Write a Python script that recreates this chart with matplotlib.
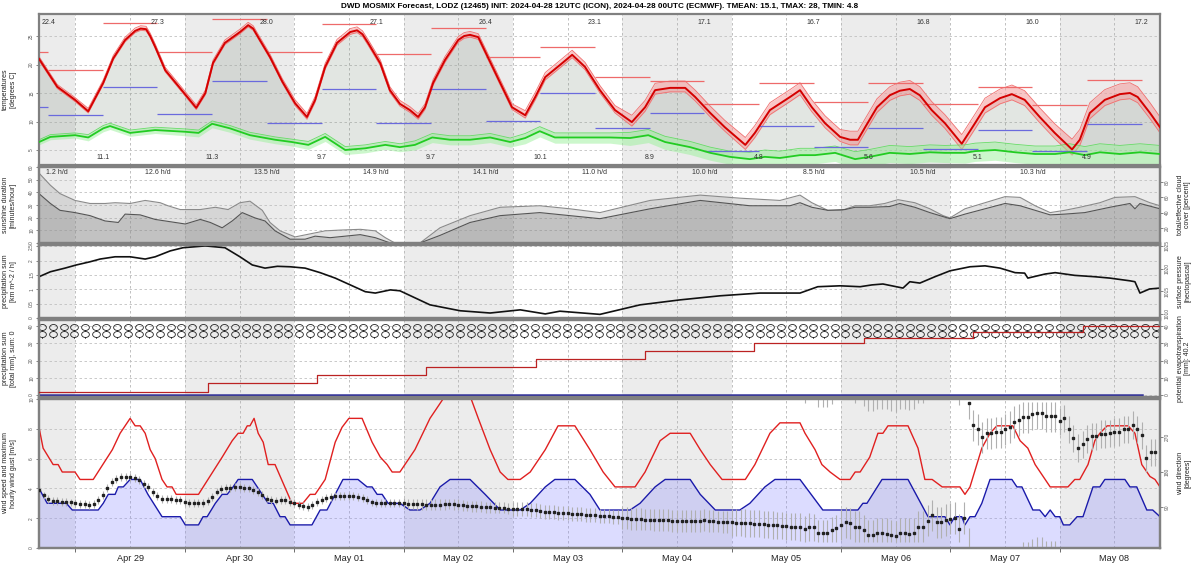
import numpy as np
import matplotlib
matplotlib.use('Agg')
import matplotlib.pyplot as plt
from matplotlib.path import Path

plt.rcParams['font.family'] = ['Liberation Sans', 'DejaVu Sans']

# time axis: hours since 2024-04-28 00:00
T0, T1 = 16, 262
day_labels = ['Apr 29', 'Apr 30', 'May 01', 'May 02', 'May 03', 'May 04',
              'May 05', 'May 06', 'May 07', 'May 08']

# ---- temperature (degrees C) ----
temp_h = [16.0, 20.0, 23.9, 26.8, 30.1, 32.3, 34.9, 37.1, 38.3, 39.5, 40.4, 41.5, 43.7,
          46.7, 50.5, 52.5, 54.2, 56.8, 60.1, 61.9, 63.0, 64.1, 66.7, 69.4, 72.2, 74.8,
          76.6, 78.8, 81.4, 84.3, 85.8, 87.0, 88.2, 90.9, 93.0, 95.2, 97.4, 99.2, 100.7,
          102.5, 105.1, 108.0, 109.3, 110.6, 112.4, 114.5, 117.2, 119.8, 122.7, 124.9,
          127.1, 130.3, 133.0, 135.8, 139.1, 142.4, 146.1, 149.0, 151.2, 154.5, 157.8,
          160.0, 163.3, 166.5, 171.0, 173.1, 176.4, 180.8, 183.0, 185.6, 188.5, 191.8,
          194.0, 195.7, 197.3, 199.9, 202.7, 204.9, 207.1, 209.3, 211.9, 214.8, 218.5,
          221.4, 223.6, 226.9, 229.5, 232.3, 235.6, 238.9, 242.7, 244.4, 246.6, 249.9,
          253.2, 255.4, 257.1, 259.8, 262.0]
temp = [21.0, 16.1, 13.8, 11.8, 16.8, 21.1, 24.3, 25.9, 26.3, 26.2, 25.0, 23.1, 19.0,
        16.1, 12.4, 15.0, 20.3, 23.8, 25.7, 26.9, 26.3, 24.8, 21.3, 17.0, 13.2, 10.8,
        13.8, 19.6, 23.8, 25.7, 26.0, 25.3, 23.8, 20.2, 15.5, 13.1, 12.0, 10.8, 12.5,
        16.8, 20.8, 24.3, 25.0, 25.2, 24.8, 21.3, 16.8, 12.5, 11.1, 14.3,
        17.8, 19.9, 21.7, 19.6, 15.5, 12.0, 9.9, 12.5, 15.5, 15.9, 15.9,
        14.3, 11.5, 9.0, 5.9, 8.0, 12.0, 14.3, 15.5, 12.5, 9.7, 7.3,
        6.8, 6.8, 9.0, 12.5, 14.6, 15.4, 15.7, 14.6, 12.0, 9.7, 6.1,
        9.7, 12.5, 14.1, 14.8, 13.8, 10.8, 8.0, 5.1, 6.8, 11.5, 13.8,
        14.8, 15.0, 14.3, 11.5, 9.0]
# ensemble spread per forecast day (above / below the mean)
temp_up_day = [0.4, 0.5, 0.5, 0.6, 0.6, 0.8, 1.2, 1.3, 1.5, 1.6, 1.8]
temp_lo_day = [0.3, 0.3, 0.3, 0.4, 0.4, 0.5, 0.7, 0.8, 0.9, 1.0, 1.0]

dew_h = [16.0, 18.5, 23.9, 26.8, 30.1, 31.6, 36.0, 41.5, 48.1, 51.0, 54.0, 57.9,
         62.3, 67.8, 71.5, 75.1, 78.8, 83.2, 87.6, 92.0, 95.2, 98.5, 102.3, 106.2,
         110.6, 115.0, 119.4, 122.7, 125.9, 129.2, 134.7, 141.3, 145.7, 149.7, 153.4,
         158.9, 163.3, 167.6, 172.0, 175.3, 178.6, 183.0, 186.3, 190.7, 195.1, 198.3,
         202.7, 207.1, 211.5, 214.8, 219.2, 221.4, 225.8, 230.2, 234.6, 239.0, 242.2,
         245.5, 248.8, 253.2, 257.6, 262.0]
dew = [6.4, 7.3, 7.6, 7.2, 8.8, 9.2, 8.0, 8.5, 8.2, 8.0, 9.6, 8.8,
       7.6, 6.8, 6.4, 5.9, 7.3, 5.0, 5.3, 5.9, 5.5, 5.9, 7.2, 6.8,
       6.8, 7.2, 6.4, 7.1, 8.3, 7.2, 7.2, 7.2, 7.1, 7.6, 6.4,
       5.5, 4.5, 3.8, 3.4, 3.8, 3.6, 4.1, 4.1, 4.5, 3.4, 3.8,
       4.5, 4.3, 4.6, 4.5, 4.5, 4.8, 5.0, 4.6, 4.3, 4.3, 4.6,
       4.1, 4.6, 4.3, 4.6, 4.3]
dew_up_day = [0.4, 0.5, 0.5, 0.6, 0.7, 0.8, 1.0, 1.2, 1.3, 1.4, 1.5]
dew_lo_day = [0.5, 0.6, 0.7, 0.8, 0.9, 1.0, 1.3, 1.5, 1.7, 1.8, 2.0]

# 12 h max / min blocks
block_edges = [16, 18, 30, 42, 54, 66, 78, 90, 102, 114, 126, 138, 150, 162, 174,
               186, 198, 210, 222, 234, 246, 258]
tmax_blocks = [22.2, 19.0, 27.3, 22.2, 28.0, 22.2, 27.1, 21.8, 26.4, 21.3, 23.1,
               17.8, 17.1, 13.1, 16.7, 13.4, 16.8, 13.1, 16.0, 12.9, 17.2]
tmin_blocks = [12.5, 11.1, 16.1, 11.3, 17.1, 9.7, 15.7, 9.7, 15.7, 10.1, 15.0,
               8.9, 11.5, 4.8, 9.2, 5.6, 8.9, 5.1, 8.5, 4.9, 9.5]
tmax_text_h = [18, 42, 66, 90, 114, 138, 162, 186, 210, 234, 258]
tmax_text = ['22.4', '27.3', '28.0', '27.1', '26.4', '23.1', '17.1', '16.7', '16.8',
             '16.0', '17.2']
tmin_text_h = [30, 54, 78, 102, 126, 150, 174, 198, 222, 246]
tmin_text = ['11.1', '11.3', '9.7', '9.7', '10.1', '8.9', '4.8', '5.6', '5.1', '4.9']

# ---- cloud cover (percent) ----
cloud_h = [16.0, 18.5, 20.6, 23.9, 27.2, 30.5, 32.7, 36.0, 39.3, 42.6, 44.3, 47.0,
           51.4, 54.7, 57.5, 60.1, 62.3, 65.0, 66.7, 68.9, 72.2, 75.5, 78.8, 82.1,
           86.5, 89.8, 92.0, 94.1, 99.6, 104.0, 110.6, 117.2, 125.9, 132.5, 139.1,
           150.1, 161.1, 169.8, 178.6, 183.0, 185.6, 189.1, 192.2, 195.1, 198.3,
           201.6, 204.5, 208.2, 211.5, 214.4, 215.9, 219.2, 223.6, 228.0, 231.3,
           234.6, 237.9, 241.1, 244.4, 248.8, 252.1, 256.5, 259.8, 262.0]
cloud_total = [92, 76, 65, 56, 52, 52, 53, 52, 56, 53, 49, 44,
               44, 47, 44, 53, 55, 43, 27, 16, 8, 12, 16, 17,
               18, 16, 7, 0, 0, 20, 36, 47, 49, 45, 40,
               56, 63, 59, 56, 63, 53, 43, 43, 49, 49,
               52, 57, 53, 45, 36, 33, 45, 53, 61, 60,
               49, 40, 43, 47, 53, 60, 61, 53, 49]
eff_h = [16.0, 18.5, 20.6, 23.9, 27.2, 30.5, 33.4, 34.9, 38.2, 41.5, 44.8, 48.1,
         51.4, 53.6, 56.2, 58.4, 60.6, 63.4, 65.6, 67.8, 71.1, 74.4, 76.6, 79.9,
         83.2, 86.5, 89.8, 93.1, 99.6, 104.0, 110.6, 117.2, 125.9, 139.1, 150.1,
         161.1, 172.0, 180.8, 183.0, 185.6, 189.1, 192.9, 195.1, 198.3, 202.7,
         204.9, 208.2, 211.5, 215.9, 219.2, 223.6, 228.0, 231.3, 234.6, 237.9,
         241.1, 245.5, 251.0, 255.4, 256.5, 257.6, 262.0]
cloud_eff = [65, 52, 43, 40, 36, 29, 27, 38, 37, 31, 28, 25,
             31, 27, 20, 29, 40, 33, 29, 16, 5, 5, 9, 7,
             9, 11, 7, 0, 0, 10, 27, 36, 40, 32, 45,
             56, 49, 49, 53, 47, 43, 44, 47, 47, 48,
             52, 47, 40, 32, 38, 45, 52, 49, 43, 37,
             38, 40, 47, 52, 45, 52, 45]
sun_text_h = [18, 42, 66, 90, 114, 138, 162, 186, 210, 234]
sun_text = ['1.2 h/d', '12.6 h/d', '13.5 h/d', '14.9 h/d', '14.1 h/d', '11.0 h/d',
            '10.0 h/d', '8.5 h/d', '10.5 h/d', '10.3 h/d']

# ---- surface pressure (hPa) ----
pres_h = [16.0, 18.5, 21.7, 24.2, 27.2, 29.4, 32.7, 36.0, 39.3, 41.5, 44.8, 47.6,
          52.5, 56.8, 60.1, 62.8, 65.6, 68.3, 71.1, 74.4, 77.7, 81.0, 84.3, 87.6,
          89.8, 93.1, 95.2, 101.8, 108.4, 115.0, 121.6, 127.1, 130.3, 139.1, 147.9,
          156.7, 165.5, 174.2, 180.8, 183.0, 186.9, 191.8, 196.2, 198.8, 201.2,
          205.6, 207.1, 209.3, 212.6, 215.9, 220.3, 223.6, 226.9, 230.2, 232.3,
          233.0, 236.8, 239.0, 243.3, 247.7, 251.0, 255.4, 256.5, 257.6, 259.7, 262.0]
pres = [1018.2, 1019.3, 1020.1, 1020.8, 1021.5, 1022.1, 1022.6, 1022.6, 1022.1, 1022.6,
        1023.9, 1024.6, 1025.0, 1024.6, 1022.6, 1020.8, 1020.1, 1020.5, 1020.4, 1020.1,
        1019.1, 1017.9, 1016.4, 1014.9, 1014.6, 1015.3, 1015.1, 1012.0, 1010.7, 1010.2,
        1010.9, 1010.0, 1010.6, 1009.9, 1012.0, 1013.1, 1014.0, 1014.6, 1014.6, 1014.6,
        1016.0, 1016.2, 1016.0, 1016.4, 1016.6, 1015.7, 1017.1, 1016.8, 1018.2, 1019.5,
        1020.4, 1020.6, 1020.1, 1019.1, 1019.0, 1017.9, 1018.8, 1019.1, 1018.5, 1018.2,
        1017.9, 1017.3, 1017.1, 1014.6, 1015.5, 1015.7]

# ---- precipitation sum / potential evapotranspiration (mm) ----
pet_h = [16, 53, 77, 101, 125, 149, 173, 197, 221, 245, 262]
pet_sum = [1.6, 6.8, 11.6, 16.0, 20.7, 25.5, 30.3, 33.2, 36.7, 40.2, 40.2]
precip_h = [16, 258]
precip_sum = [0.0, 0.0]

# ---- wind (m/s) ----
gust_h = [16.0, 16.9, 19.1, 20.2, 21.1, 23.9, 25.0, 27.9, 32.1, 33.8, 34.9, 36.0,
          37.1, 38.2, 39.3, 40.4, 41.5, 43.0, 44.1, 45.2, 46.1, 51.0, 56.2, 58.4,
          59.7, 60.8, 61.7, 62.3, 63.2, 64.1, 65.2, 66.3, 67.8, 71.5, 73.9, 75.5,
          76.6, 78.8, 81.0, 82.5, 84.0, 86.9, 89.1, 90.9, 92.4, 93.5, 95.2, 98.5,
          101.8, 105.1, 110.6, 112.4, 115.0, 117.2, 118.9, 121.6, 123.8, 127.1, 129.9,
          133.6, 136.9, 139.8, 142.4, 146.8, 149.0, 152.3, 154.5, 158.9, 161.1, 163.3,
          165.9, 171.0, 173.1, 176.4, 178.6, 183.0, 184.1, 186.3, 187.8, 189.6, 191.8,
          194.0, 195.1, 196.2, 198.3, 200.1, 201.2, 202.3, 206.7, 208.9, 210.4, 212.0,
          214.2, 218.1, 219.2, 220.3, 222.9, 224.7, 226.2, 229.7, 231.3, 233.0, 234.6,
          236.8, 237.9, 241.8, 243.3, 244.4, 246.2, 247.7, 248.8, 250.4, 255.0, 256.5,
          258.0, 259.8, 260.9, 262.0]
gust = [8.1, 6.7, 5.6, 5.6, 5.1, 5.1, 4.6, 4.6, 6.6, 7.7, 8.2, 8.7,
        8.2, 8.2, 7.7, 6.6, 6.0, 4.6, 4.1, 4.1, 3.6, 3.6, 6.1, 7.2,
        7.7, 7.7, 8.2, 8.2, 8.7, 7.7, 7.1, 5.6, 5.6, 3.0, 3.0, 3.6,
        3.6, 4.6, 7.1, 8.1, 8.7, 8.7, 7.1, 6.1, 5.6, 5.1, 5.1, 6.6,
        8.7, 10.2, 10.2, 8.7, 6.6, 5.1, 4.6, 4.6, 5.1, 6.6, 8.2,
        8.2, 6.6, 5.1, 4.1, 4.1, 5.1, 7.2, 7.7, 7.7, 6.6, 5.6,
        4.6, 4.6, 5.6, 7.7, 8.4, 8.4, 7.7, 6.6, 5.6, 5.1, 4.6,
        4.6, 5.1, 5.1, 6.1, 7.7, 7.7, 8.2, 8.2, 6.7, 4.6, 4.6,
        4.1, 4.1, 3.6, 4.1, 6.7, 7.7, 8.2, 8.2, 7.2, 6.7, 5.6,
        4.6, 4.1, 4.1, 4.6, 4.6, 5.6, 7.2, 7.7, 8.2, 8.2, 7.7,
        5.6, 4.8, 4.6, 4.1]
wind_h = [16.0, 17.8, 22.0, 23.3, 29.0, 30.1, 31.2, 32.7, 33.4, 34.5, 36.0, 38.2,
          39.9, 43.0, 47.0, 48.1, 51.0, 52.0, 52.9, 54.7, 56.2, 57.3, 58.6, 59.7,
          62.8, 66.3, 67.4, 68.9, 70.0, 71.1, 75.9, 77.7, 79.2, 82.7, 86.0, 88.0,
          89.1, 90.2, 91.3, 92.6, 95.2, 97.4, 99.6, 101.8, 104.0, 106.2, 110.6,
          113.9, 117.2, 121.6, 123.8, 127.1, 129.2, 133.6, 136.9, 139.1, 145.7,
          147.9, 151.2, 153.4, 158.9, 161.1, 164.4, 169.8, 172.0, 175.3, 177.5,
          183.0, 188.0, 195.7, 196.8, 197.7, 201.0, 206.7, 211.1, 214.8, 215.9,
          217.0, 218.5, 219.2, 220.3, 221.4, 222.9, 224.7, 229.5, 230.6, 231.7,
          234.1, 235.6, 236.8, 237.9, 239.0, 240.0, 240.8, 242.2, 243.8, 245.1,
          247.3, 248.8, 249.9, 254.3, 255.4, 256.9, 259.1, 260.4, 262.0]
wind = [4.0, 3.0, 3.0, 2.55, 2.55, 3.0, 3.6, 3.6, 4.1, 4.1, 4.6, 4.6,
        3.6, 2.1, 2.1, 1.55, 1.55, 2.1, 2.1, 3.0, 3.6, 3.6, 4.1, 4.6,
        4.6, 3.0, 3.0, 2.1, 2.1, 1.55, 1.55, 2.55, 2.55, 4.6, 4.6, 4.1,
        4.1, 3.6, 3.6, 3.0, 3.0, 2.55, 2.55, 3.0, 4.1, 4.6, 4.6,
        3.6, 2.55, 2.55, 3.0, 4.1, 4.6, 4.6, 3.6, 2.55, 2.55,
        3.0, 4.1, 4.6, 4.6, 3.6, 2.55, 2.55, 3.0, 4.1, 4.6,
        4.6, 2.55, 2.55, 3.0, 3.0, 4.6, 4.6, 2.1, 2.1, 1.55,
        2.1, 2.1, 1.55, 2.1, 2.1, 3.0, 4.6, 4.6, 4.1, 4.1,
        2.55, 2.55, 2.1, 2.55, 2.1, 2.1, 1.55, 1.55, 2.1, 2.1,
        4.1, 4.1, 4.6, 4.6, 4.1, 4.1, 2.55, 2.55, 2.1]

# hourly wind direction (degrees), hours 16 .. 261
wdir = [134, 120, 110, 105, 105, 104, 104, 102,                       # Apr 28
        100, 98, 98, 96, 98, 108, 121, 139, 154, 162, 167, 167,        # Apr 29
        167, 165, 159, 150, 141, 128, 118, 110, 110, 110, 108, 108,
        104, 101, 100, 100, 101, 106, 116, 130, 137, 139, 140, 141,    # Apr 30
        141, 140, 138, 134, 128, 121, 112, 108, 107, 108, 108, 104,
        100, 96, 92, 90, 96, 103, 108, 113, 116, 118, 118, 118,        # May 01
        118, 118, 117, 114, 108, 102, 100, 100, 100, 100, 100, 100,
        100, 98, 98, 97, 97, 96, 96, 96, 96, 97, 98, 97,               # May 02
        96, 95, 93, 92, 92, 91, 90, 90, 88, 88, 88, 86,
        85, 85, 84, 84, 83, 82, 80, 78, 78, 77, 76, 75,                # May 03
        74, 73, 72, 72, 71, 70, 70, 68, 67, 66, 65, 64,
        63, 62, 60, 60, 59, 58, 58, 57, 57, 56, 56, 55,                # May 04
        55, 55, 55, 54, 54, 55, 56, 55, 54, 53, 52, 52,
        51, 50, 50, 49, 48, 47, 47, 46, 45, 44, 43, 42,                # May 05
        41, 40, 40, 39, 33, 39, 38, 23, 23, 23, 30, 36,
        45, 51, 48, 39, 40, 30, 18, 18, 23, 23, 22, 18,                # May 06
        15, 23, 23, 21, 23, 39, 39, 55, 69, 51, 51, 57,
        60, 62, 33, 62, 357, 301, 290, 270, 280, 280, 283, 283,        # May 07
        290, 296, 309, 314, 321, 321, 329, 332, 332, 324, 324, 324,
        311, 318, 290, 267, 242, 252, 265, 272, 272, 278, 278, 280,    # May 08
        283, 283, 290, 290, 301, 290, 275, 216, 231, 231]
wdir_spread_day = [10, 10, 10, 10, 14, 18, 28, 35, 40, 40, 35]

# ---------------------------------------------------------------------
GRAY_DAYS = [(16, 24), (48, 72), (96, 120), (144, 168), (192, 216), (240, 262)]
FRAME = '#808080'

# weather symbol: flat ring with a short stem underneath
_t = np.linspace(0, 2 * np.pi, 33)
SYMBOL = Path(list(zip(1.3 * np.cos(_t), np.sin(_t))) + [(0, -1.0), (0, -1.45)],
              [Path.MOVETO] + [Path.LINETO] * 32 + [Path.MOVETO, Path.LINETO])

fig = plt.figure(figsize=(12, 5.71), dpi=100)
L, W = 39 / 1200, 1121 / 1200


def panel(top, bot):
    return fig.add_axes([L, 1 - bot / 571, W, (bot - top) / 571])


def style(ax, yticks, ylim):
    ax.set_xlim(T0, T1)
    ax.set_ylim(*ylim)
    for a, b in GRAY_DAYS:
        ax.axvspan(a, b, color='#ececec', zorder=0, lw=0)
    for h in range(24, T1, 12):
        ax.axvline(h, color='#b5b5b5', ls=(0, (3, 3)), lw=0.6, zorder=0.5)
    for y in yticks:
        ax.axhline(y, color='#c0c0c0', ls=(0, (3, 3)), lw=0.6, zorder=0.5)
    ax.set_yticks(yticks)
    ax.set_yticklabels([f'{v:g}' for v in yticks], rotation=90, va='center')
    ax.tick_params(axis='y', labelsize=3.5, length=2, width=0.5, pad=1.5,
                   colors='#555555')
    ax.set_xticks(range(24, T1, 24))
    ax.tick_params(axis='x', length=3, width=0.6, colors='#555555', labelbottom=False)
    for s in ax.spines.values():
        s.set_color(FRAME)
        s.set_linewidth(1.6)


def twin(ax, yticks, ylim):
    axr = ax.twinx()
    axr.set_xlim(T0, T1)
    axr.set_ylim(*ylim)
    axr.set_yticks(yticks)
    axr.set_yticklabels([f'{v:g}' for v in yticks], rotation=90, va='center')
    axr.tick_params(axis='y', labelsize=3.5, length=2, width=0.5, pad=1.5,
                    colors='#555555')
    for s in axr.spines.values():
        s.set_color(FRAME)
        s.set_linewidth(1.6)
    return axr


def ylab(ax, text, right=False):
    ax.set_ylabel(text, fontsize=5, color='#222222', rotation=90,
                  linespacing=1.1, va='center', ha='center')
    ax.yaxis.set_label_coords(1.0214 if right else -0.0263, 0.5)


def day_index(hours):
    return (np.asarray(hours) // 24).astype(int)


# ---- panel 1: temperature ----
ax1 = panel(14, 165)
style(ax1, [5, 10, 15, 20, 25], (2.37, 28.86))
th, tv = np.array(temp_h), np.array(temp)
dh, dv = np.array(dew_h), np.array(dew)
ax1.fill(np.r_[th, dh[::-1]], np.r_[tv, dv[::-1]], color='#7f907f', alpha=0.22,
         lw=0, zorder=1)
di = day_index(th)
tup = tv + np.array(temp_up_day)[di]
tlo = tv - np.array(temp_lo_day)[di]
ax1.fill_between(th, tlo, tup, color='#f59a9a', alpha=0.55, lw=0, zorder=2)
ax1.plot(th, tup, color='#f07070', lw=0.6, zorder=2)
ax1.plot(th, tlo, color='#f07070', lw=0.6, zorder=2)
dd = day_index(dh)
dup = dv + np.array(dew_up_day)[dd]
dlo = dv - np.array(dew_lo_day)[dd]
ax1.fill_between(dh, dlo, dup, color='#9af09a', alpha=0.5, lw=0, zorder=2)
ax1.plot(dh, dup, color='#66dd66', lw=0.6, zorder=2)
ax1.plot(th, tv, color='#d40000', lw=1.4, zorder=3)
ax1.plot(dh, dv, color='#22cc22', lw=1.3, zorder=3)
ax1.hlines(tmax_blocks, block_edges[:-1], block_edges[1:], color='#ee6a6a', lw=0.9,
           zorder=2.5)
ax1.hlines(tmin_blocks, block_edges[:-1], block_edges[1:], color='#6a6add', lw=0.9,
           zorder=2.5)
for h, s in zip(tmax_text_h, tmax_text):
    ax1.text(max(h, 17.6), 27.3, s, fontsize=5, ha='center', va='center',
             color='#333333', zorder=4)
for h, s in zip(tmin_text_h, tmin_text):
    ax1.text(h, 3.6, s, fontsize=5, ha='center', va='center', color='#333333',
             zorder=4)
ylab(ax1, 'temperatures\n[degrees C]')

# ---- panel 2: sunshine / cloud cover ----
ax2 = panel(167, 243)
style(ax2, [0, 10, 20, 30, 40, 50, 60], (0, 60))
ax2r = twin(ax2, [20, 40, 60, 80], (0, 100))
ax2r.fill_between(cloud_h, 0, cloud_total, color='#a0a0a0', alpha=0.3, lw=0, zorder=1)
ax2r.plot(cloud_h, cloud_total, color='#8a8a8a', lw=0.8, zorder=2)
ax2r.fill_between(eff_h, 0, cloud_eff, color='#7a7a7a', alpha=0.3, lw=0, zorder=1)
ax2r.plot(eff_h, cloud_eff, color='#555555', lw=0.8, zorder=2)
for h, s in zip(sun_text_h, sun_text):
    ax2r.text(max(h, 20.0), 93, s, fontsize=5, ha='center', va='center',
              color='#333333')
ylab(ax2, 'sunshine duration\n[minutes/hour]')
ylab(ax2r, 'total/effective cloud\ncover [percent]', right=True)

# ---- panel 3: pressure ----
ax3 = panel(245, 318)
style(ax3, [0, 0.5, 1.0, 1.5, 2.0, 2.5], (0, 2.55))
ax3r = twin(ax3, [1010, 1015, 1020, 1025], (1009.1, 1025.2))
ax3r.plot(pres_h, pres, color='#111111', lw=1.2)
ylab(ax3, 'precipitation sum\n[km m^-2 / h]')
ylab(ax3r, 'surface pressure\n[hectopascal]', right=True)

# ---- panel 4: precipitation sum / evapotranspiration ----
ax4 = panel(320, 397)
style(ax4, [0, 10, 20, 30, 40], (-1.16, 43.5))
ax4r = twin(ax4, [0, 10, 20, 30, 40], (-1.16, 43.5))
sym_h = np.arange(16.7, 262, 2.35)
for yv in (39.4, 35.3):
    ax4.plot(sym_h, np.full(len(sym_h), yv), ls='none', marker=SYMBOL, ms=6.2,
             mfc='none', mec='#222222', mew=0.6, zorder=3)
ax4.plot(precip_h, precip_sum, color='#333399', lw=1.8, zorder=3)
ax4r.step(pet_h, pet_sum, where='post', color='#bb2222', lw=0.9, zorder=3)
ylab(ax4, 'precipitation sum\n[total mm], sum: 0')
ylab(ax4r, 'potential evapotranspiration\n[mm]: 40.2', right=True)

# ---- panel 5: wind ----
ax5 = panel(399, 548)
style(ax5, [0, 2, 4, 6, 8, 10], (0, 10))
ax5.fill_between(wind_h, 0, wind, color='#8c8cff', alpha=0.3, lw=0, zorder=1)
ax5.plot(wind_h, wind, color='#1a1aaa', lw=1.0, zorder=3)
ax5.plot(gust_h, gust, color='#e02020', lw=1.0, zorder=3)
ax5r = twin(ax5, [90, 180, 270], (-15, 368))
wh = np.arange(16, 16 + len(wdir))
spread = np.array(wdir_spread_day)[day_index(wh)]
wd = np.array(wdir)
lo, hi = wd - spread, wd + spread
ax5r.vlines(wh, np.maximum(lo, 0), np.minimum(hi, 360), color='#b0b0b0', lw=0.8,
            zorder=2)
# spread crossing north continues on the other side of the axis
under = lo < 0
ax5r.vlines(wh[under], lo[under] + 360, 368, color='#b0b0b0', lw=0.8, zorder=2)
over = hi > 360
ax5r.vlines(wh[over], -15, hi[over] - 360, color='#b0b0b0', lw=0.8, zorder=2)
ax5r.plot(wh, wd, ls='none', marker='s', ms=1.6, color='#222222', zorder=4)
ax5.set_xticks(range(24, T1, 24))
ax5.set_xticks(range(36, T1, 24), minor=True)
ax5.set_xticklabels(day_labels, minor=True)
ax5.tick_params(axis='x', which='minor', length=0, labelsize=6.6, labelbottom=True,
                pad=4, colors='#222222')
ylab(ax5, 'wind speed and maximum\nhourly wind gust [m/s]')
ylab(ax5r, 'wind direction\n[degrees]', right=True)

fig.text(0.5, 0.989, 'DWD MOSMIX Forecast, LODZ (12465) INIT: 2024-04-28 12UTC (ICON), '
         '2024-04-28 00UTC (ECMWF). TMEAN: 15.1, TMAX: 28, TMIN: 4.8',
         ha='center', va='center', fontsize=5.9, fontweight='bold')

fig.savefig('out.png', dpi=100)
